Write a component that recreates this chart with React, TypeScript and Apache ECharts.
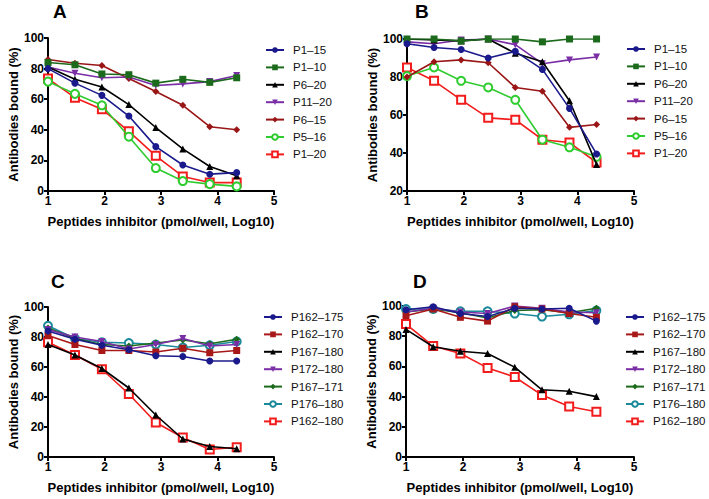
import React, { useEffect, useRef } from "react";
import * as echarts from "echarts";

const xValues = [1, 1.477, 1.954, 2.431, 2.908, 3.386, 3.863, 4.34];
const xTicks = [1, 2, 3, 4, 5];

const namesAB = ["P1–15", "P1–10", "P6–20", "P11–20", "P6–15", "P5–16", "P1–20"];
const namesCD = ["P162–175", "P162–170", "P167–180", "P172–180", "P167–171", "P176–180", "P162–180"];

// Panel A
const aP1_15 = [80, 70.5, 62.5, 49, 29, 17, 11, 12];
const aP1_10 = [84, 82.5, 76.5, 76, 70.5, 73, 71, 74];
const aP6_20 = [81, 73, 68, 56.5, 41.5, 27.5, 16, 10];
const aP11_20 = [81, 77, 74, 74.5, 69, 70, 71.5, 75.5];
const aP6_15 = [86, 83.5, 82, 73.5, 65, 56, 42, 40];
const aP5_16 = [71.5, 63.5, 56, 35.5, 15, 6.5, 4.5, 3];
const aP1_20 = [73.5, 61, 53.5, 39, 23, 9.5, 5.5, 5.5];

// Panel B
const bP1_15 = [97.5, 95.5, 94.5, 90, 93.5, 84, 63.5, 39.5];
const bP1_10 = [100, 100, 99, 100, 100, 98.5, 100, 100];
const bP6_20 = [100, 99.5, 99, 100, 92.5, 88, 67.5, 34];
const bP11_20 = [98.5, 97.5, 99.5, 100, 97, 87, 89, 90.5];
const bP6_15 = [80, 88, 89, 87.5, 74.5, 72.5, 53.5, 55];
const bP5_16 = [80.5, 85, 78, 74.5, 68, 47, 43, 38];
const bP1_20 = [85, 78, 68, 58.5, 57.5, 47, 45.5, 35];

// Panel C
const cP162_175 = [84, 78.5, 74.5, 71.5, 67.5, 67, 64, 64];
const cP162_170 = [81, 75, 71, 71, 70, 72.5, 69.5, 71];
const cP167_180 = [75, 68, 59, 46, 28, 12, 7, 5.5];
const cP172_180 = [85, 80, 77, 72, 75, 79, 74, 75];
const cP167_171 = [86, 79, 75, 74, 76, 78, 75.5, 78.5];
const cP176_180 = [87.5, 79, 76.5, 76, 75, 73, 74.5, 77];
const cP162_180 = [76.5, 68, 58.5, 42, 23, 13, 5, 6.5];

// Panel D
const dP162_175 = [97.5, 99.5, 95, 93, 98.5, 98, 98.5, 90];
const dP162_170 = [93.5, 98, 92.5, 90, 99.5, 98, 95, 92.5];
const dP167_180 = [84.5, 73, 70, 68.5, 59.5, 44.5, 43.5, 40];
const dP172_180 = [96, 98.5, 96, 95, 100, 98.5, 96, 95.5];
const dP167_171 = [96, 98, 95.5, 92, 97, 97.5, 95.5, 98.5];
const dP176_180 = [98, 98, 96.5, 96.5, 95, 93, 94.5, 97];
const dP162_180 = [88, 73.5, 68.5, 59, 53, 41, 33.5, 30];

const panelLetters = ["A", "B", "C", "D"];
const xTitle = "Peptides inhibitor (pmol/well, Log10)";
const yTitle = "Antibodies bound (%)";

const INV_TRI = "path://M0,0 L10,0 L5,10 Z";

const stylesAB = [
  { color: "#1a1a8c", symbol: "circle" },
  { color: "#1c6b1c", symbol: "rect" },
  { color: "#000000", symbol: "triangle" },
  { color: "#7a2ea6", symbol: INV_TRI },
  { color: "#9a1616", symbol: "diamond" },
  { color: "#2fcc2f", symbol: "emptyCircle" },
  { color: "#f21c1c", symbol: "emptyRect" },
];
const stylesCD = [
  { color: "#1a1a8c", symbol: "circle" },
  { color: "#a81818", symbol: "rect" },
  { color: "#000000", symbol: "triangle" },
  { color: "#7a2ea6", symbol: INV_TRI },
  { color: "#1c6b1c", symbol: "diamond" },
  { color: "#1a8a9a", symbol: "emptyCircle" },
  { color: "#f21c1c", symbol: "emptyRect" },
];

const panelData = [
  [aP1_15, aP1_10, aP6_20, aP11_20, aP6_15, aP5_16, aP1_20],
  [bP1_15, bP1_10, bP6_20, bP11_20, bP6_15, bP5_16, bP1_20],
  [cP162_175, cP162_170, cP167_180, cP172_180, cP167_171, cP176_180, cP162_180],
  [dP162_175, dP162_170, dP167_180, dP172_180, dP167_171, dP176_180, dP162_180],
];

export default function App() {
  const ref = useRef<HTMLDivElement>(null);
  useEffect(() => {
    if (!ref.current) return;
    const chart = echarts.init(ref.current, null, { renderer: "svg" });
    const font = "Liberation Sans, Arial, sans-serif";
    const grids = [
      { left: 48, top: 38, width: 226, height: 153 },
      { left: 407, top: 39, width: 227, height: 152 },
      { left: 48, top: 307, width: 226, height: 150 },
      { left: 406, top: 306, width: 228, height: 151 },
    ];
    const yMins = [0, 20, 0, 0];
    const legendPos = [
      { left: 265, top: 43 },
      { left: 626, top: 42 },
      { left: 263, top: 310 },
      { left: 625, top: 310 },
    ];
    const letterPos = [
      [53, 2],
      [415, 2],
      [51, 272],
      [413, 272],
    ];
    const axisCommon = {
      axisLine: { show: true, onZero: false, lineStyle: { color: "#000", width: 2 } },
      axisTick: { show: true, length: 4, lineStyle: { color: "#000", width: 2 } },
      splitLine: { show: false },
      axisLabel: { color: "#000", fontWeight: "bold", fontSize: 12, fontFamily: font, margin: 4 },
      nameTextStyle: { color: "#000", fontWeight: "bold", fontSize: 13, fontFamily: font },
    };
    const xAxis = grids.map((_, i) => ({
      ...axisCommon,
      type: "value",
      gridIndex: i,
      min: xTicks[0],
      max: xTicks[xTicks.length - 1],
      interval: 1,
      name: xTitle,
      nameLocation: "middle",
      nameGap: 24,
    }));
    const yAxis = grids.map((_, i) => ({
      ...axisCommon,
      type: "value",
      gridIndex: i,
      min: yMins[i],
      max: 100,
      interval: 20,
      name: yTitle,
      nameLocation: "middle",
      nameGap: 28,
    }));
    const series: any[] = [];
    panelData.forEach((arrs, p) => {
      const names = p < 2 ? namesAB : namesCD;
      const styles = p < 2 ? stylesAB : stylesCD;
      arrs.forEach((vals, k) => {
        const st = styles[k];
        const empty = st.symbol.startsWith("empty");
        series.push({
          type: "line",
          name: names[k],
          xAxisIndex: p,
          yAxisIndex: p,
          data: vals.map((v, j) => [xValues[j], v]),
          symbol: st.symbol,
          symbolSize: empty ? 8 : 7,
          lineStyle: { color: st.color, width: 1.6 },
          itemStyle: { color: st.color, borderColor: st.color, borderWidth: empty ? 2 : 0 },
          emphasis: { disabled: true },
          z: 10 - k,
        });
      });
    });
    const legend = legendPos.map((pos, p) => ({
      ...pos,
      orient: "vertical",
      data: p < 2 ? namesAB : namesCD,
      itemWidth: 18,
      itemHeight: 7,
      itemGap: 3.4,
      selectedMode: false,
      textStyle: { fontSize: 11.5, fontFamily: font, color: "#111", lineHeight: 14, padding: [0, 0, 0, 4] },
      padding: 0,
    }));
    const graphic = panelLetters.map((t, i) => ({
      type: "text",
      left: letterPos[i][0],
      top: letterPos[i][1],
      style: { text: t, fontSize: 19, fontWeight: "bold", fontFamily: font, fill: "#000" },
    }));
    chart.setOption({
      animation: false,
      backgroundColor: "#fff",
      grid: grids,
      xAxis,
      yAxis,
      series,
      legend,
      graphic,
    });
    return () => chart.dispose();
  }, []);
  return (
    <div
      ref={ref}
      style={{ position: "fixed", left: 0, top: 0, width: 709, height: 499 }}
    />
  );
}
